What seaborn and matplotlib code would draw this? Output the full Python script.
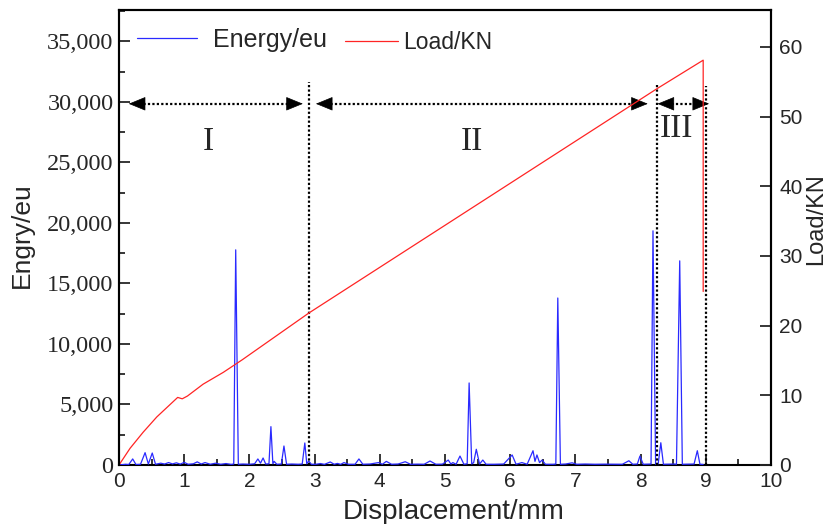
import matplotlib
matplotlib.use("Agg")
import matplotlib.pyplot as plt
import seaborn as sns
import pandas as pd
from matplotlib.ticker import MultipleLocator, FuncFormatter

# ---------------- data ----------------
disp_load = [0.00, 0.17, 0.37, 0.58, 0.74, 0.90, 0.97, 1.05, 1.29, 1.60, 1.89,
             2.91, 5.00, 8.25, 8.96, 8.96]
load_kn = [0.0, 2.4, 4.7, 6.9, 8.3, 9.7, 9.5, 9.9, 11.6, 13.3, 15.1,
           21.8, 34.4, 54.0, 58.1, 24.9]

disp_e = [0.00, 0.10, 0.15, 0.21, 0.26, 0.33, 0.40, 0.45, 0.51, 0.56,
          0.64, 0.70, 0.76, 0.82, 0.88, 0.94, 1.00, 1.06, 1.14, 1.20,
          1.26, 1.32, 1.40, 1.48, 1.56, 1.64, 1.72, 1.76, 1.79, 1.83,
          1.90, 2.00, 2.08, 2.13, 2.17, 2.21, 2.25, 2.30, 2.33, 2.36,
          2.38, 2.42, 2.49, 2.53, 2.57, 2.65, 2.75, 2.81, 2.85, 2.88,
          2.91, 2.95, 3.02, 3.09, 3.15, 3.24, 3.30, 3.35, 3.40, 3.45,
          3.52, 3.62, 3.68, 3.74, 3.85, 3.98, 4.04, 4.10, 4.18, 4.28,
          4.39, 4.47, 4.58, 4.68, 4.77, 4.86, 4.96, 5.05, 5.09, 5.12,
          5.17, 5.23, 5.29, 5.34, 5.37, 5.41, 5.44, 5.48, 5.53, 5.58,
          5.63, 5.75, 5.90, 6.03, 6.09, 6.18, 6.26, 6.35, 6.38, 6.41,
          6.45, 6.49, 6.54, 6.66, 6.70, 6.73, 6.77, 6.85, 6.95, 7.02,
          7.15, 7.30, 7.45, 7.60, 7.72, 7.82, 7.88, 7.95, 7.99, 8.04,
          8.12, 8.16, 8.19, 8.23, 8.27, 8.31, 8.35, 8.45, 8.52, 8.55,
          8.60, 8.64, 8.75, 8.82, 8.87, 8.91, 8.96]
energy = [0, 60, 40, 500, 40, 60, 1020, 80, 990, 60,
          150, 80, 200, 90, 180, 70, 220, 60, 100, 260,
          80, 200, 60, 150, 60, 120, 50, 80, 17780, 60,
          80, 60, 100, 500, 150, 580, 80, 100, 3170, 100,
          300, 60, 80, 1570, 60, 80, 60, 80, 1820, 100,
          330, 60, 60, 120, 50, 250, 60, 130, 50, 200,
          60, 60, 500, 60, 80, 200, 60, 300, 60, 80,
          270, 60, 70, 60, 330, 60, 70, 410, 80, 200,
          60, 740, 60, 100, 6780, 80, 200, 1300, 80, 410,
          60, 60, 80, 830, 60, 200, 60, 1180, 300, 830,
          200, 410, 60, 60, 80, 13800, 60, 80, 180, 60,
          80, 60, 70, 60, 60, 350, 60, 80, 740, 60,
          70, 80, 19350, 60, 100, 1840, 60, 70, 80, 60,
          16870, 60, 70, 80, 1180, 60, 50]

stage_bounds = [2.91, 8.25, 9.00]
stage_tops = [31670, 31500, 31340]
arrow_spans = [(0.15, 2.82), (3.02, 8.11), (8.26, 9.05)]
arrow_level = 29850
stage_labels = ["I", "II", "III"]
stage_label_pos = [(1.37, 26700), (5.41, 26730), (8.55, 27780)]

df_e = pd.DataFrame({"disp": disp_e, "energy": energy})
df_l = pd.DataFrame({"disp": disp_load, "load": load_kn})

# ---------------- style ----------------
sns.set_style("ticks")
plt.rcParams["font.family"] = ["Liberation Sans", "DejaVu Sans"]
SERIF = ["Liberation Serif", "DejaVu Serif"]

fig = plt.figure(figsize=(8.32, 5.24), dpi=100)
ax1 = fig.add_axes([119 / 832, 1 - 465 / 524, (771 - 119) / 832, (465 - 10) / 524])
ax2 = ax1.twinx()

sns.lineplot(data=df_e, x="disp", y="energy", ax=ax1, color="#2a2aff", lw=0.9,
             estimator=None, sort=False, label="Energy/eu", zorder=3)
sns.lineplot(data=df_l, x="disp", y="load", ax=ax2, color="#ff2424", lw=0.9,
             estimator=None, sort=False, label="Load/KN")

ax1.set_xlim(0, 10)
ax1.set_ylim(0, 37600)
ax2.set_ylim(0, 65.3)

ax1.xaxis.set_major_locator(MultipleLocator(1))
ax1.xaxis.set_minor_locator(MultipleLocator(0.5))
ax1.yaxis.set_major_locator(MultipleLocator(5000))
ax1.yaxis.set_minor_locator(MultipleLocator(2500))
ax1.yaxis.set_major_formatter(FuncFormatter(lambda v, p: f"{v:,.0f}"))
ax2.yaxis.set_major_locator(MultipleLocator(10))

ax1.tick_params(axis="both", which="major", direction="in", length=8, width=1.3)
ax1.tick_params(axis="both", which="minor", direction="in", length=4.5, width=1.3)
ax1.tick_params(axis="x", labelsize=15, pad=5)
ax1.tick_params(axis="y", labelsize=17.5, pad=4)
for lab in ax1.get_yticklabels():
    lab.set_fontfamily(SERIF)
ax2.tick_params(axis="y", which="major", direction="in", length=8, width=1.3,
                labelsize=15, pad=6)

for sp in ax1.spines.values():
    sp.set_linewidth(1.5)
    sp.set_color("black")
for sp in ax2.spines.values():
    sp.set_linewidth(1.5)
    sp.set_color("black")
ax2.spines["bottom"].set_visible(False)

ax1.set_xlabel("Displacement/mm", fontsize=20)
ax1.xaxis.set_label_coords(0.514, -0.075)
ax1.set_ylabel("Engry/eu", fontsize=19)
ax1.yaxis.set_label_coords(-0.13, 0.505)
ax2.set_ylabel("Load/KN", fontsize=17)
ax2.yaxis.set_label_coords(1.052, 0.54)

# stage boundaries and arrows
for xb, top in zip(stage_bounds, stage_tops):
    ax1.plot([xb, xb], [0, top], color="black", ls=(0, (1, 1)), lw=1.6, zorder=4)
for (x0, x1) in arrow_spans:
    ax1.plot([x0 + 0.15, x1 - 0.15], [arrow_level, arrow_level], color="black",
             ls=(0, (1, 1)), lw=1.6, zorder=4)
    ax1.annotate("", xy=(x0, arrow_level), xytext=(x0 + 0.24, arrow_level),
                 arrowprops=dict(arrowstyle="-|>,head_length=1.1,head_width=0.45",
                                 color="black", lw=0.5, shrinkA=0, shrinkB=0))
    ax1.annotate("", xy=(x1, arrow_level), xytext=(x1 - 0.24, arrow_level),
                 arrowprops=dict(arrowstyle="-|>,head_length=1.1,head_width=0.45",
                                 color="black", lw=0.5, shrinkA=0, shrinkB=0))
for lab, (lx, ly) in zip(stage_labels, stage_label_pos):
    ax1.text(lx, ly, lab, fontsize=24, family=SERIF, ha="center", va="center")

# legends
if ax1.get_legend():
    ax1.get_legend().remove()
if ax2.get_legend():
    ax2.get_legend().remove()
h1, l1 = ax1.get_legend_handles_labels()
h2, l2 = ax2.get_legend_handles_labels()
leg1 = ax2.legend(h1, l1, loc="upper left", bbox_to_anchor=(0.0, 1.0),
                  frameon=False, fontsize=18, handlelength=2.4,
                  handletextpad=0.65, borderaxespad=0.3)
ax2.add_artist(leg1)
ax2.legend(h2, l2, loc="upper left", bbox_to_anchor=(0.322, 0.99),
           frameon=False, fontsize=16.5, handlelength=2.3,
           handletextpad=0.25, borderaxespad=0.3)

fig.savefig("out.png", dpi=100)
